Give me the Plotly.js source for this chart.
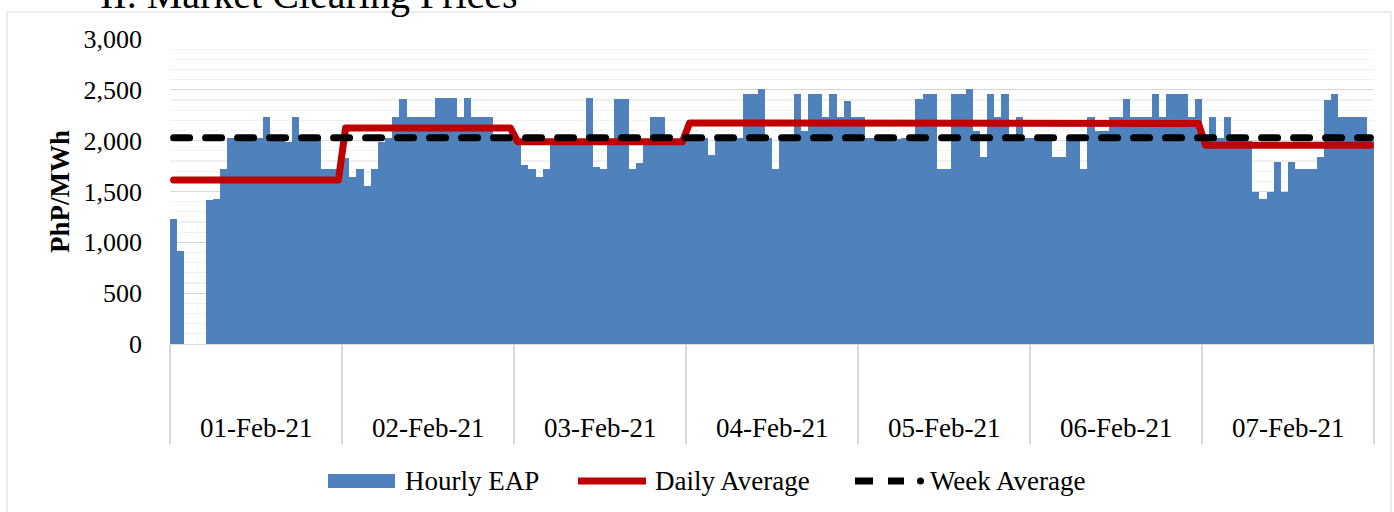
<!DOCTYPE html>
<html>
<head>
<meta charset="utf-8">
<script src="https://cdn.plot.ly/plotly-3.0.1.min.js"></script>
<style>
  html, body { margin: 0; padding: 0; background: #ffffff; }
  #chart { width: 1394px; height: 512px; }
</style>
</head>
<body>
<div id="chart"></div>
<script>
// ---- Data ----
var chartTitle = "II. Market Clearing Prices";
var dayLabels = ["01-Feb-21", "02-Feb-21", "03-Feb-21", "04-Feb-21", "05-Feb-21", "06-Feb-21", "07-Feb-21"];

var day1 = [1230, 910, 0, 0, 0, 1416, 1426, 1718, 2030, 2030, 2030, 2030, 2030, 2235, 2030, 2030, 1985, 2235, 2030, 2030, 2030, 1718, 1718, 1718];
var day2 = [1826, 1645, 1718, 1557, 1718, 1990, 2030, 2235, 2405, 2235, 2235, 2235, 2235, 2415, 2415, 2415, 2235, 2415, 2235, 2235, 2235, 2030, 2030, 2030];
var day3 = [2010, 1760, 1718, 1645, 1718, 2010, 2010, 2010, 2010, 2010, 2415, 1744, 1718, 2010, 2405, 2405, 1718, 1783, 2010, 2235, 2235, 2010, 2010, 2010];
var day4 = [2030, 2030, 2030, 1858, 2030, 2030, 2030, 2030, 2455, 2455, 2504, 2030, 1718, 2030, 2030, 2460, 2100, 2460, 2460, 2235, 2460, 2235, 2390, 2235];
var day5 = [2235, 2030, 2030, 2030, 2030, 2015, 2030, 2030, 2405, 2460, 2460, 1718, 1718, 2460, 2460, 2504, 2100, 1842, 2455, 2235, 2460, 2030, 2235, 2030];
var day6 = [2030, 2030, 2030, 1842, 1842, 2030, 2030, 1718, 2235, 2100, 2100, 2235, 2235, 2405, 2235, 2235, 2235, 2460, 2235, 2455, 2460, 2460, 2235, 2405];
var day7 = [2030, 2235, 2030, 2235, 2000, 2000, 2000, 1498, 1426, 1498, 1793, 1498, 1793, 1718, 1718, 1718, 1842, 2400, 2460, 2235, 2235, 2235, 2235, 2000];

var dailyAverage = [1612, 2125, 1990, 2175, 2160, 2170, 1955];
var weekAverage = 2029;

var seriesNames = ["Hourly EAP", "Daily Average", "Week Average"];

// ---- Build traces ----
var days = [day1, day2, day3, day4, day5, day6, day7];
var hourlyEAP = [].concat.apply([], days);
var hoursPerDay = day1.length;
var hourIndex = hourlyEAP.map(function (v, i) { return i; });
var dailyLineY = hourIndex.map(function (i) { return dailyAverage[Math.floor(i / hoursPerDay)]; });
var weekLineY = hourIndex.map(function () { return weekAverage; });

var boundaries = [];
for (var d = 0; d <= days.length; d++) boundaries.push(d * hoursPerDay - 0.5);
var dayCenters = dayLabels.map(function (_, d) { return d * hoursPerDay + (hoursPerDay - 1) / 2; });

var traces = [
  { type: "bar", name: seriesNames[0], x: hourIndex, y: hourlyEAP, width: 1,
    marker: { color: "#4f81bd", line: { width: 0 } }, hoverinfo: "skip" },
  { type: "scatter", mode: "lines", name: seriesNames[1], x: hourIndex, y: dailyLineY,
    line: { color: "#c00000", width: 7 }, hoverinfo: "skip" },
  { type: "scatter", mode: "lines", name: seriesNames[2], x: hourIndex, y: weekLineY,
    line: { color: "#000000", width: 7, dash: "16px,16px" }, hoverinfo: "skip" }
];

// ---- Layout geometry (pixels -> paper) ----
var W = 1394, H = 512, L = 170, R = 20, T = 39, B = 168;
var PW = W - L - R, PH = H - T - B;
function px(x) { return (x - L) / PW; }
function py(y) { return (H - B - y) / PH; }

var FONT = "Liberation Serif, Times New Roman, serif";

var annotations = dayLabels.map(function (lab, d) {
  return { xref: "x", yref: "paper", x: dayCenters[d], y: py(428), text: lab,
    showarrow: false, xanchor: "center", yanchor: "middle",
    font: { family: FONT, size: 27, color: "#000000" } };
});

// legend texts
annotations.push({ xref: "paper", yref: "paper", x: px(403), y: py(481), text: seriesNames[0],
  showarrow: false, xanchor: "left", yanchor: "middle", font: { family: FONT, size: 27, color: "#000" } });
annotations.push({ xref: "paper", yref: "paper", x: px(653), y: py(481), text: seriesNames[1],
  showarrow: false, xanchor: "left", yanchor: "middle", font: { family: FONT, size: 27, color: "#000" } });
annotations.push({ xref: "paper", yref: "paper", x: px(928), y: py(481), text: seriesNames[2],
  showarrow: false, xanchor: "left", yanchor: "middle", font: { family: FONT, size: 27, color: "#000" } });

var shapes = [
  // outer chart border
  { type: "rect", xref: "paper", yref: "paper", x0: px(7), x1: px(1391), y0: py(520), y1: py(12),
    line: { color: "#d9d9d9", width: 1 }, fillcolor: "rgba(0,0,0,0)", layer: "below" },
  // legend symbols
  { type: "rect", xref: "paper", yref: "paper", x0: px(328), x1: px(395), y0: py(488), y1: py(474),
    line: { width: 0 }, fillcolor: "#4f81bd" },
  { type: "line", xref: "paper", yref: "paper", x0: px(578), x1: px(646), y0: py(481), y1: py(481),
    line: { color: "#c00000", width: 7 } },
  { type: "line", xref: "paper", yref: "paper", x0: px(855), x1: px(873), y0: py(481), y1: py(481),
    line: { color: "#000000", width: 7 } },
  { type: "line", xref: "paper", yref: "paper", x0: px(888), x1: px(904), y0: py(481), y1: py(481),
    line: { color: "#000000", width: 7 } },
  { type: "circle", xref: "paper", yref: "paper", x0: px(917), x1: px(924), y0: py(484.5), y1: py(477.5),
    line: { width: 0 }, fillcolor: "#000000" }
];

var layout = {
  width: W, height: H,
  margin: { l: L, r: R, t: T, b: B, pad: 0 },
  paper_bgcolor: "#ffffff", plot_bgcolor: "#ffffff",
  font: { family: FONT, color: "#000000" },
  showlegend: false,
  bargap: 0,
  title: { text: chartTitle, x: 100 / W, xanchor: "left", xref: "container",
    yref: "container", y: 1 - 8 / H, yanchor: "bottom",
    font: { family: FONT, size: 40, color: "#000000" } },
  xaxis: {
    range: [-0.5, hourlyEAP.length - 0.5],
    tickmode: "array", tickvals: boundaries, ticktext: boundaries.map(function () { return ""; }),
    ticks: "outside", ticklen: 99, tickwidth: 1.3, tickcolor: "#d9d9d9",
    showticklabels: false, showgrid: false, zeroline: false,
    showline: true, linecolor: "#d9d9d9", linewidth: 1.3, fixedrange: true
  },
  yaxis: {
    range: [0, 3000], tick0: 0, dtick: 500, tickformat: ",d",
    showgrid: true, gridcolor: "#d9d9d9", gridwidth: 1.3,
    minor: { dtick: 100, showgrid: true, gridcolor: "#f0f0f0", gridwidth: 1.3, ticks: "" },
    zeroline: false, showline: false, ticks: "",
    ticklabelstandoff: 27,
    tickfont: { family: FONT, size: 26, color: "#000000" },
    title: { text: "PhP/MWh", standoff: 6, font: { family: FONT, size: 27, color: "#000000", weight: "bold" } },
    fixedrange: true
  },
  annotations: annotations,
  shapes: shapes
};

Plotly.newPlot("chart", traces, layout, { staticPlot: true, displayModeBar: false }).then(function () {
  var paths = document.querySelectorAll(".scatterlayer .trace path.js-line");
  paths.forEach(function (p) {
    p.style.strokeLinecap = "round";
    p.style.strokeLinejoin = "round";
  });
});
</script>
</body>
</html>
